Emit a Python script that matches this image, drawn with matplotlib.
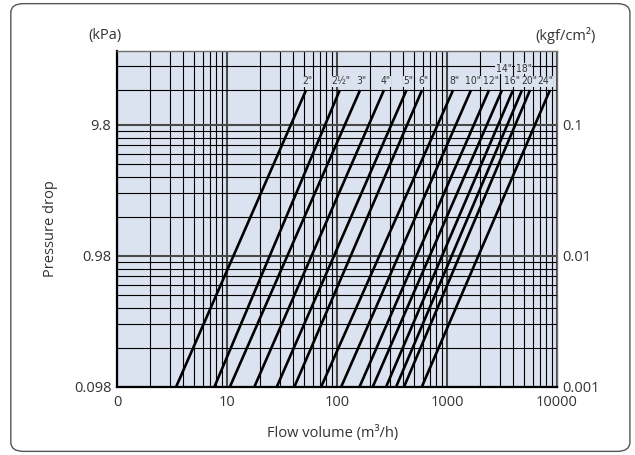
import numpy as np
import matplotlib
matplotlib.use("Agg")
import matplotlib.pyplot as plt
from matplotlib.patches import FancyBboxPatch
from matplotlib.ticker import FixedLocator, NullFormatter
from matplotlib import font_manager
import matplotlib.transforms as mtransforms

# -------------------------------------------------------------
# Data (flow in m3/h, pressure drop in kPa)
# -------------------------------------------------------------
sizes = ['2"', '2½"', '3"', '4"', '5"', '6"', '8"', '10"', '12"',
         '14"', '16"', '18"', '20"', '24"']
# flow at the bottom of the chart (0.098 kPa)
flow_low = [3.44, 7.67, 10.6, 17.7, 28.3, 40.9, 71.6, 109, 160,
            211, 279, 344, 406, 589]
# flow where each line stops (18.1 kPa)
flow_high = [52.3, 106, 162, 267, 428, 593, 1135, 1652, 2410,
             3162, 3981, 4808, 5685, 8630]
p_low = 0.098
p_high = 18.1

x_ticks = [1, 10, 100, 1000, 10000]
x_labels = ["0", "10", "100", "1000", "10000"]
y_ticks = [0.098, 0.98, 9.8]
y_labels = ["0.098", "0.98", "9.8"]
kgf_ticks = [0.001, 0.01, 0.1]
kgf_labels = ["0.001", "0.01", "0.1"]
top_grid = [18.1, 27.6]   # extra lines above 9.8 kPa
p_max = 36.0

bg = "#dce3f0"
txt = "#333333"
plt.rcParams['font.family'] = ['Open Sans', 'DejaVu Sans']

# narrow font for the pipe size labels, if there is one
names = {f.name for f in font_manager.fontManager.ttflist}
narrow = None
for f in font_manager.fontManager.ttflist:
    if f.name == "DejaVu Sans" and f.stretch == "condensed":
        narrow = dict(family="DejaVu Sans", stretch="condensed")
        break
if narrow is None and "Liberation Sans Narrow" in names:
    narrow = dict(family="Liberation Sans Narrow")
if narrow is None:
    narrow = dict(family="DejaVu Sans")

fig = plt.figure(figsize=(6.35, 4.55), dpi=100)
fig.patch.set_facecolor("white")
frame = FancyBboxPatch((0.017, 0.008), 0.975, 0.984, boxstyle="round,pad=0,rounding_size=0.02",
                       transform=fig.transFigure, fc="none", ec="#555555", lw=1.0)
fig.patches.append(frame)

ax = fig.add_axes([0.1843, 0.1495, 0.6929, 0.7385])
ax.set_facecolor(bg)
ax.set_xscale("log")
ax.set_yscale("log")
ax.set_xlim(1, 10000)
ax.set_ylim(p_low, p_max)

# grid ----------------------------------------------------------
ax.xaxis.set_major_locator(FixedLocator(x_ticks))
ax.xaxis.set_minor_locator(FixedLocator([k * 10 ** n for n in range(4) for k in range(2, 10)]))
ax.set_xticklabels(x_labels)
ax.xaxis.set_minor_formatter(NullFormatter())

y_minor = [p_low * k * 10 ** n for n in range(2) for k in range(2, 10)] + top_grid
ax.yaxis.set_major_locator(FixedLocator(y_ticks))
ax.yaxis.set_minor_locator(FixedLocator(y_minor))
ax.set_yticklabels(y_labels)
ax.yaxis.set_minor_formatter(NullFormatter())

ax.grid(which="major", color="#4a4a4a", lw=1.5, zorder=1)
ax.grid(which="minor", color="black", lw=0.8, zorder=1)
ax.set_axisbelow(True)

ax.tick_params(which="both", length=0, labelsize=10.5, labelcolor=txt)
ax.tick_params(axis="x", pad=6)
ax.tick_params(axis="y", pad=4)

for s in ["left", "bottom"]:
    ax.spines[s].set_linewidth(1.6)
    ax.spines[s].set_color("black")
for s in ["top", "right"]:
    ax.spines[s].set_linewidth(1.0)
    ax.spines[s].set_color("#6e6e6e")

# right axis in kgf/cm2
ax2 = ax.twinx()
ax2.set_yscale("log")
ax2.set_ylim(p_low / 98, p_max / 98)
ax2.yaxis.set_major_locator(FixedLocator(kgf_ticks))
ax2.yaxis.set_minor_locator(FixedLocator([]))
ax2.set_yticklabels(kgf_labels)
ax2.tick_params(which="both", length=0, labelsize=10.5, labelcolor=txt, pad=4)
for s in ax2.spines.values():
    s.set_visible(False)

# pipe size lines ----------------------------------------------
for i, name in enumerate(sizes):
    ax.plot([flow_low[i], flow_high[i]], [p_low, p_high], color="black",
            lw=1.9, solid_capstyle="butt", zorder=5)
    if name in ('14"', '18"'):
        ly = 26.4
    else:
        ly = 21.1
    # small nudges so the crowded labels on the right do not collide
    if name == '24"':
        ha, dx = "right", 3
    elif name == '20"':
        ha, dx = "center", -1
    elif name == '16"':
        ha, dx = "center", -1
    else:
        ha, dx = "center", 1.5
    off = mtransforms.offset_copy(ax.transData, fig=fig, x=dx, y=0, units="dots")
    ax.text(flow_high[i], ly, name, ha=ha, va="center", fontsize=7.4,
            color=txt, zorder=6, transform=off,
            bbox=dict(boxstyle="square,pad=0.03", fc=bg, ec="none"),
            **narrow)

# labels --------------------------------------------------------
fig.text(105 / 635, 1 - 35 / 455, "(kPa)", ha="center", va="center", fontsize=10.5, color=txt)
fig.text(566 / 635, 1 - 35 / 455, "(kgf/cm²)", ha="center", va="center", fontsize=10.5, color=txt)
fig.text(50 / 635, 1 - 229 / 455, "Pressure drop", rotation=90, ha="center", va="center",
         fontsize=10.5, color=txt)
fig.text(333 / 635, 1 - 433 / 455, "Flow volume (m³/h)", ha="center", va="center",
         fontsize=10.5, color=txt)

fig.savefig("out.png", dpi=100)
